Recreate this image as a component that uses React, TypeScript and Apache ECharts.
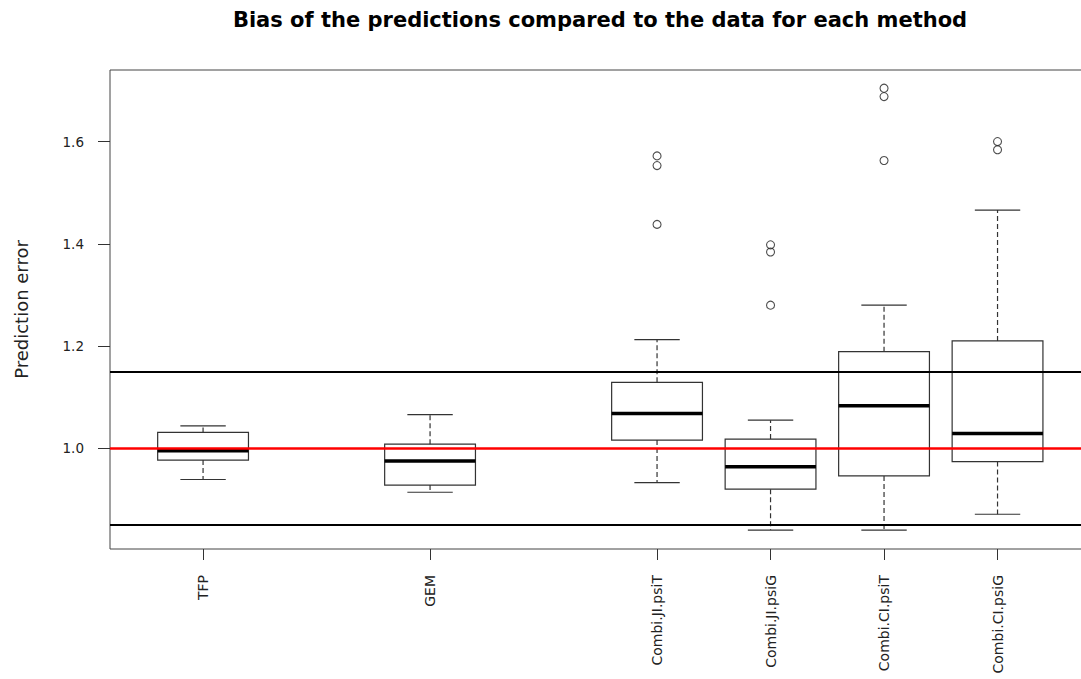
import React, { useEffect, useRef } from "react";
import * as echarts from "echarts";

const categories = ["TFP", "GEM", "Combi.JI.psiT", "Combi.JI.psiG", "Combi.CI.psiT", "Combi.CI.psiG"];
const positions = [1, 3, 5, 6, 7, 8];
const lowerWhisker = [0.939, 0.914, 0.933, 0.84, 0.84, 0.871];
const q1 = [0.977, 0.928, 1.016, 0.92, 0.946, 0.974];
const median = [0.995, 0.975, 1.068, 0.964, 1.083, 1.029];
const q3 = [1.031, 1.008, 1.129, 1.018, 1.189, 1.21];
const upperWhisker = [1.044, 1.066, 1.2125, 1.055, 1.28, 1.466];
const outliers = [[], [], [1.572, 1.553, 1.438], [1.398, 1.384, 1.28], [1.7045, 1.688, 1.563], [1.6, 1.584]];
const limitLines = [0.85, 1.15];
const targetLine = 1.0;
const yTicks = [1.0, 1.2, 1.4, 1.6];
const titleText = "Bias of the predictions compared to the data for each method";
const yName = "Prediction error";

export default function App() {
  const ref = useRef<HTMLDivElement>(null);
  useEffect(() => {
    if (!ref.current) return;
    const chart = echarts.init(ref.current, null, { renderer: "svg" });
    const boxData = positions.map((p, i) => [p, lowerWhisker[i], q1[i], median[i], q3[i], upperWhisker[i]]);
    const outlierData: number[][] = [];
    outliers.forEach((arr, i) => arr.forEach((v) => outlierData.push([positions[i], v])));
    const lineColor = "#333";
    const option: any = {
      animation: false,
      backgroundColor: "#fff",
      graphic: [
        {
          type: "text",
          x: 600,
          y: 20,
          style: {
            text: titleText,
            fontFamily: "DejaVu Sans",
            fontWeight: "bold",
            fontSize: 21,
            fill: "#000",
            textAlign: "center",
            textVerticalAlign: "middle",
          },
        },
      ],
      grid: {
        left: 110,
        top: 70,
        width: 980.6,
        height: 479,
        show: true,
        borderColor: "#444",
        borderWidth: 1,
        backgroundColor: "transparent",
        containLabel: false,
        outerBoundsMode: "none",
      },
      xAxis: {
        type: "value",
        min: 0.18,
        max: 8.82,
        splitLine: { show: false },
        axisLine: { show: false },
        axisTick: { show: true, length: 11, customValues: positions, lineStyle: { color: "#333", width: 1 } },
        axisLabel: {
          show: true,
          customValues: positions,
          rotate: 90,
          margin: 26,
          fontFamily: "DejaVu Sans",
          fontSize: 14,
          color: "#222",
          formatter: (v: number) => {
            const idx = positions.findIndex((p) => Math.abs(p - v) < 1e-6);
            return idx >= 0 ? categories[idx] : "";
          },
        },
      },
      yAxis: {
        type: "value",
        min: 0.803,
        max: 1.74,
        name: yName,
        nameLocation: "middle",
        nameGap: 80,
        nameTextStyle: { fontFamily: "DejaVu Sans", fontSize: 18, color: "#222" },
        splitLine: { show: false },
        axisLine: { show: false },
        axisTick: { show: true, length: 12, customValues: yTicks, lineStyle: { color: "#333", width: 1 } },
        axisLabel: {
          show: true,
          customValues: yTicks,
          margin: 26,
          fontFamily: "DejaVu Sans",
          fontSize: 13.5,
          color: "#222",
          formatter: (v: number) => v.toFixed(1),
        },
      },
      series: [
        {
          type: "custom",
          z: 2,
          data: boxData,
          encode: { x: 0, y: [1, 2, 3, 4, 5] },
          renderItem: (params: any, api: any) => {
            const x = api.value(0);
            const lw = api.value(1);
            const lq = api.value(2);
            const md = api.value(3);
            const uq = api.value(4);
            const uw = api.value(5);
            const tl = api.coord([x - 0.4, uq]);
            const br = api.coord([x + 0.4, lq]);
            const mL = api.coord([x - 0.4, md]);
            const mR = api.coord([x + 0.4, md]);
            const cTop = api.coord([x, uw]);
            const cUq = api.coord([x, uq]);
            const cLq = api.coord([x, lq]);
            const cBot = api.coord([x, lw]);
            const capTL = api.coord([x - 0.2, uw]);
            const capTR = api.coord([x + 0.2, uw]);
            const capBL = api.coord([x - 0.2, lw]);
            const capBR = api.coord([x + 0.2, lw]);
            const thin = { stroke: lineColor, lineWidth: 1.2 };
            return {
              type: "group",
              children: [
                { type: "line", shape: { x1: cUq[0], y1: cUq[1], x2: cTop[0], y2: cTop[1] }, style: { ...thin, lineDash: [5, 3] } },
                { type: "line", shape: { x1: cLq[0], y1: cLq[1], x2: cBot[0], y2: cBot[1] }, style: { ...thin, lineDash: [5, 3] } },
                { type: "line", shape: { x1: capTL[0], y1: capTL[1], x2: capTR[0], y2: capTR[1] }, style: thin },
                { type: "line", shape: { x1: capBL[0], y1: capBL[1], x2: capBR[0], y2: capBR[1] }, style: thin },
                {
                  type: "rect",
                  shape: { x: tl[0], y: tl[1], width: br[0] - tl[0], height: br[1] - tl[1] },
                  style: { fill: "none", stroke: lineColor, lineWidth: 1.2 },
                },
                { type: "line", shape: { x1: mL[0], y1: mL[1], x2: mR[0], y2: mR[1] }, style: { stroke: "#000", lineWidth: 3.5 } },
              ],
            };
          },
        },
        {
          type: "scatter",
          z: 3,
          data: outlierData,
          symbol: "circle",
          symbolSize: 8,
          itemStyle: { color: "rgba(255,255,255,0)", borderColor: "#222", borderWidth: 1.1 },
          markLine: {
            silent: true,
            symbol: ["none", "none"],
            label: { show: false },
            z: 5,
            data: [
              ...limitLines.map((v) => ({ yAxis: v, lineStyle: { color: "#000", width: 2.2, type: "solid" } })),
              { yAxis: targetLine, lineStyle: { color: "#ff0000", width: 2.5, type: "solid" } },
            ],
          },
        },
      ],
    };
    chart.setOption(option);
    return () => chart.dispose();
  }, []);
  return <div ref={ref} style={{ position: "absolute", left: 0, top: 0, width: 1081, height: 679 }} />;
}
